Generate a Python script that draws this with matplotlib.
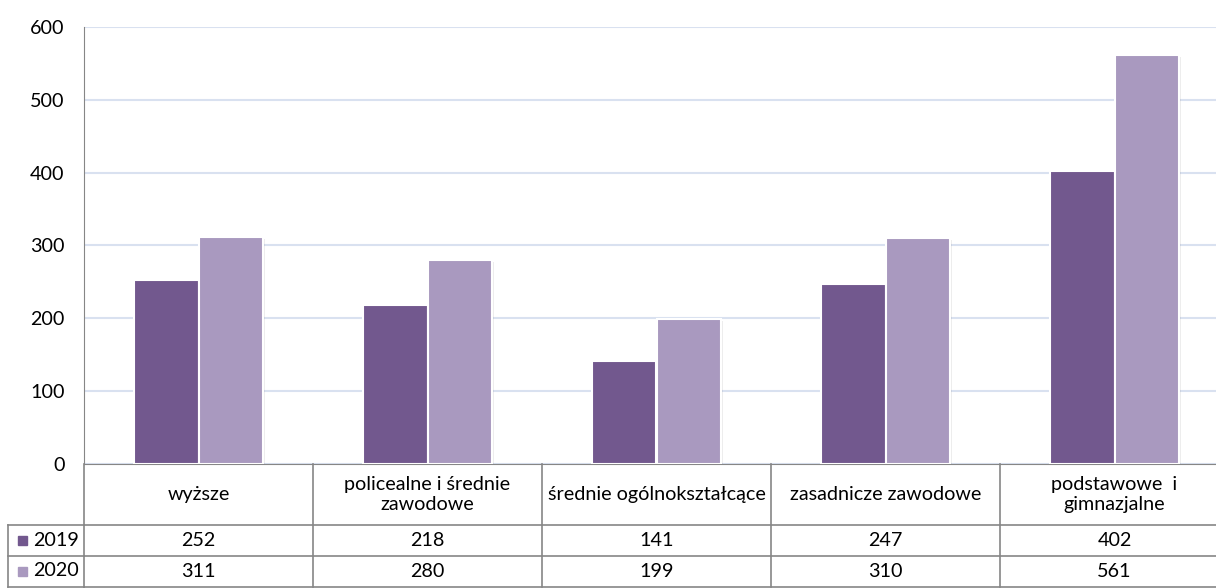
import numpy as np
from matplotlib import pyplot as plt
from matplotlib import transforms as mtrans

# data to plot
categories = ['wyższe', 'policealne i średnie\nzawodowe', 'średnie ogólnokształcące',
              'zasadnicze zawodowe', 'podstawowe  i\ngimnazjalne']
years = ['2019', '2020']
values_2019 = [252, 218, 141, 247, 402]
values_2020 = [311, 280, 199, 310, 561]
colors = ['#72588e', '#a999bf']

plt.rcParams['font.family'] = ['Lato', 'DejaVu Sans']
fs = 14.2

W, H = 1216, 588
fig = plt.figure(figsize=(W / 100, H / 100), dpi=100)

# axes geometry in pixels
left, right, top, bottom = 84, 1229, 27, 464
ax = fig.add_axes([left / W, 1 - bottom / H, (right - left) / W, (bottom - top) / H])

index = np.arange(len(categories))
bar_width = 0.28
series = [values_2019, values_2020]
for i, (vals, col) in enumerate(zip(series, colors)):
    # soft shadow
    ax.bar(index + (i - 0.5) * bar_width + 0.012, np.array(vals) - 2, bar_width,
           color='#000000', alpha=0.07, zorder=2, linewidth=0)
    ax.bar(index + (i - 0.5) * bar_width, vals, bar_width, color=col,
           edgecolor='white', linewidth=1.5, zorder=3)

ax.set_xlim(-0.5, len(categories) - 0.5)
ax.set_ylim(0, 600)
ax.set_yticks(range(0, 601, 100))
ax.yaxis.grid(True, color='#d9e1f0', linewidth=1.5, zorder=0)
ax.set_axisbelow(True)
ax.set_xticks([])
ax.tick_params(axis='y', length=0, pad=14, labelsize=fs)
for s in ['top', 'right']:
    ax.spines[s].set_visible(False)
ax.spines['left'].set_color('#868686')
ax.spines['bottom'].set_color('#868686')

# data table below the axes
line_kw = dict(color='#868686', linewidth=1.2, clip_on=False)
ax_h = bottom - top
row_y = [-(y - bottom) / ax_h for y in (464, 525, 556, 587)]
trans = mtrans.blended_transform_factory(ax.transData, ax.transAxes)

for j in range(len(categories) + 1):
    ax.plot([j - 0.5, j - 0.5], [row_y[0], row_y[3]], transform=trans, **line_kw)
for y in row_y[1:]:
    ax.plot([-0.5, len(categories) - 0.5], [y, y], transform=trans, **line_kw)

for j, cat in enumerate(categories):
    ax.text(j, (row_y[0] + row_y[1]) / 2, cat, transform=trans, ha='center', va='center',
            fontsize=fs, linespacing=1.15)
    for r, vals in enumerate(series):
        ax.text(j, (row_y[r + 1] + row_y[r + 2]) / 2, str(vals[j]), transform=trans,
                ha='center', va='center', fontsize=fs)

# row labels with legend keys
lx0, lx1 = 8 / W, left / W
for y in (525, 556, 587):
    fig.add_artist(plt.Line2D([lx0, lx1], [1 - y / H, 1 - y / H], color='#868686', linewidth=1.2))
fig.add_artist(plt.Line2D([lx0, lx0], [1 - 525 / H, 1 - 587 / H], color='#868686', linewidth=1.2))
for r, (yr, col) in enumerate(zip(years, colors)):
    yc = 1 - (540 + r * 31) / H
    fig.add_artist(plt.Rectangle((18 / W, yc - 4.5 / H), 9 / W, 9 / H, color=col))
    fig.text(33 / W, yc, yr, ha='left', va='center', fontsize=fs)

fig.savefig('out.png', dpi=100)
